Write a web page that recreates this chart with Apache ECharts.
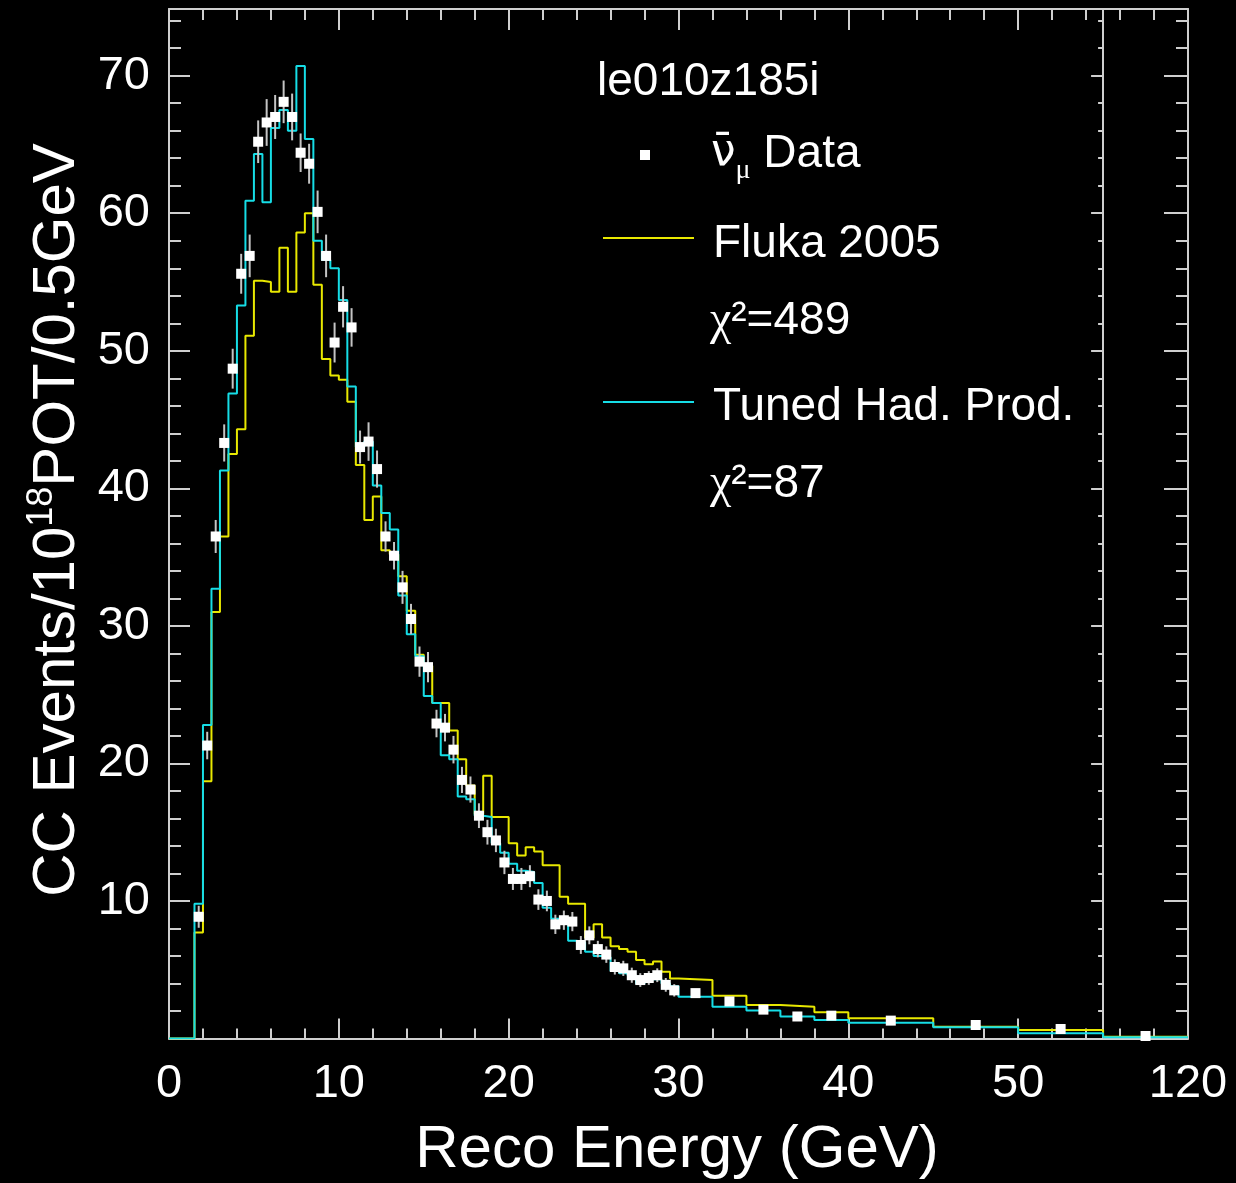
<!DOCTYPE html>
<html>
<head>
<meta charset="utf-8">
<script src="https://cdn.jsdelivr.net/npm/echarts@6/dist/echarts.min.js"></script>
<style>
html,body{margin:0;padding:0;background:#000;}
#chart{width:1236px;height:1183px;}
</style>
</head>
<body>
<div id="chart"></div>
<script>
// ---------- DATA ----------
// Bin edges in GeV (last bin 55-120 is drawn in a compressed panel)
const binEdges = [0,0.5,1,1.5,2,2.5,3,3.5,4,4.5,5,5.5,6,6.5,7,7.5,8,8.5,9,9.5,10,
  10.5,11,11.5,12,12.5,13,13.5,14,14.5,15,15.5,16,16.5,17,17.5,18,18.5,19,19.5,20,
  20.5,21,21.5,22,22.5,23,23.5,24,24.5,25,25.5,26,26.5,27,27.5,28,28.5,29,29.5,30,
  32,34,36,38,40,45,50,55,120];

// Tuned hadron production MC (cyan)
const tunedValues = [0,0,0,9.8,22.8,32.7,41.3,46.9,53.3,60.9,64.3,60.8,66.2,67.5,66.0,70.7,
  65.4,58.0,56.6,56.0,53.7,47.4,43.0,43.4,40.2,38.2,37.0,32.2,29.4,27.8,24.9,24.4,
  20.6,20.3,17.6,17.4,16.2,16.1,14.2,13.5,12.7,12.2,12.1,11.3,9.5,8.7,8.5,7.1,7.0,
  6.3,6.0,5.9,4.9,4.75,4.6,4.0,4.5,4.3,4.0,3.8,3.04,2.3,2.03,1.6,1.35,1.15,0.81,0.38,0.09];

// Fluka 2005 MC (yellow)
const flukaValues = [0,0,0,7.7,18.7,31.0,36.5,42.5,44.3,51.1,55.1,55.0,54.3,57.5,54.3,58.6,
  60.0,54.8,49.4,48.2,47.9,46.3,41.7,37.7,39.4,35.5,35.2,33.6,31.1,27.9,27.1,24.4,
  24.4,22.4,20.3,18.4,16.3,19.1,16.1,16.1,14.2,13.3,13.9,13.6,12.6,12.6,10.3,9.8,9.8,
  7.3,8.3,7.35,6.7,6.5,6.3,5.7,5.4,5.6,4.85,4.36,4.25,3.11,2.43,2.3,1.9,1.47,0.85,0.62,0.12];

// anti-numu data points (per bin) and their error half-lengths
const dataValues = [null,null,null,8.85,21.3,36.5,43.3,48.7,55.6,56.9,65.2,66.6,67.0,68.1,67.0,
  64.4,63.6,60.1,56.9,50.6,53.2,51.7,43.0,43.4,41.4,36.5,35.1,32.8,30.5,27.4,27.0,22.9,
  22.6,21.0,18.8,18.1,16.2,15.0,14.4,12.8,11.6,11.6,11.8,10.1,10.0,8.3,8.6,8.5,6.8,7.5,
  6.5,6.1,5.2,5.1,4.6,4.25,4.4,4.6,3.9,3.5,3.3,2.7,2.1,1.6,1.66,1.3,0.98,0.69,0.18];
const dataErrors = [null,null,null,0.8,1.0,1.2,1.35,1.45,1.45,1.55,1.55,1.7,1.6,1.55,1.7,1.4,
  1.45,1.55,1.55,1.45,1.5,1.4,1.2,1.4,1.35,1.1,1.0,1.2,1.1,1.1,1.1,1.0,1.0,1.0,0.95,0.95,
  0.9,0.9,0.85,0.85,0.8,0.8,0.8,0.75,0.75,0.7,0.7,0.7,0.65,0.65,0.6,0.6,0.55,0.55,0.55,
  0.5,0.5,0.5,0.5,0.45,0.3,0.28,0.25,0.22,0.22,0.12,0.1,0.08,0.03];

// Tick labels
const xTickLabels = {0:'0',10:'10',20:'20',30:'30',40:'40',50:'50',60:'120'};
const yTickLabels = {10:'10',20:'20',30:'30',40:'40',50:'50',60:'60',70:'70'};

// ---------- helpers ----------
// display coordinate: linear 0-55 GeV, the 55-120 GeV bin compressed into 55-60
const BREAK = 55, TOPREAL = 120, TOPDISP = 60;
function disp(e){ return e <= BREAK ? e : BREAK + (e - BREAK) * (TOPDISP - BREAK) / (TOPREAL - BREAK); }
function stepData(vals){
  const d = [];
  for (let i = 0; i < vals.length; i++) d.push([disp(binEdges[i]), vals[i]]);
  d.push([disp(binEdges[vals.length]), vals[vals.length - 1]]);
  return d;
}
function pointData(){
  const d = [];
  for (let i = 0; i < dataValues.length; i++) {
    if (dataValues[i] == null) continue;
    const c = 0.5 * (binEdges[i] + binEdges[i + 1]);
    d.push([disp(c), dataValues[i], dataErrors[i]]);
  }
  return d;
}
function lbl(map){
  return v => {
    const r = Math.round(v);
    return (Math.abs(v - r) < 1e-6 && map[r] !== undefined) ? map[r] : '';
  };
}

const FONT = '"Liberation Sans", Arial, Helvetica, sans-serif';
const AXC = '#cfcfcf';
const YMAX = 74.85;
const GRID = {left: 169, top: 9, right: 1236 - 1188, bottom: 1183 - 1038.5};
const gridWidth = 1236 - GRID.left - GRID.right;
const midOffset = -gridWidth * (TOPDISP - BREAK) / TOPDISP;

function xAxisDef(pos, interval, tickLen, showLine, showLabel){
  return {
    type: 'value', position: pos, min: 0, max: TOPDISP, interval: interval,
    axisLine: {show: showLine, onZero: false, lineStyle: {color: AXC, width: 2}},
    axisTick: {show: true, inside: true, length: tickLen, lineStyle: {color: AXC, width: 2}},
    minorTick: {show: false},
    axisLabel: {show: showLabel, color: '#fff', fontSize: 47, fontFamily: FONT, margin: 22, formatter: lbl(xTickLabels)},
    splitLine: {show: false}
  };
}
function yAxisDef(pos, interval, tickLen, showLine, showLabel, offset){
  return {
    type: 'value', position: pos, min: 0, max: YMAX, interval: interval, offset: offset || 0,
    axisLine: {show: showLine, onZero: false, lineStyle: {color: AXC, width: 2}},
    axisTick: {show: true, inside: true, length: tickLen, lineStyle: {color: AXC, width: 2}},
    minorTick: {show: false},
    axisLabel: {show: showLabel, color: '#fff', fontSize: 47, fontFamily: FONT, margin: 19, formatter: lbl(yTickLabels)},
    splitLine: {show: false}
  };
}

const chart = echarts.init(document.getElementById('chart'), null, {renderer: 'canvas'});
chart.setOption({
  backgroundColor: '#000',
  animation: false,
  grid: GRID,
  xAxis: [
    xAxisDef('bottom', 10, 20, true, true),
    xAxisDef('bottom', 2, 10, false, false),
    xAxisDef('top', 10, 21, true, false),
    xAxisDef('top', 2, 11, false, false)
  ],
  yAxis: [
    yAxisDef('left', 10, 21, true, true),
    yAxisDef('left', 2, 12, false, false),
    yAxisDef('right', 10, 24, true, false),
    yAxisDef('right', 2, 12, false, false),
    yAxisDef('right', 10, 12, true, false, midOffset),
    yAxisDef('right', 2, 5, false, false, midOffset)
  ],
  series: [
    {
      name: 'Fluka 2005', type: 'line', step: 'end', data: stepData(flukaValues),
      symbol: 'none', z: 3, lineStyle: {color: '#e8e800', width: 2}
    },
    {
      name: 'Tuned Had. Prod.', type: 'line', step: 'end', data: stepData(tunedValues),
      symbol: 'none', z: 4, lineStyle: {color: '#16dde6', width: 2}
    },
    {
      name: 'Data', type: 'custom', z: 5, data: pointData(),
      renderItem: function(params, api){
        const x = api.value(0), y = api.value(1), e = api.value(2);
        const p = api.coord([x, y]);
        const lo = api.coord([x, y - e]);
        const hi = api.coord([x, y + e]);
        return {type: 'group', children: [
          {type: 'line', shape: {x1: p[0], y1: lo[1], x2: p[0], y2: hi[1]}, style: {stroke: '#c4c4c4', lineWidth: 2}},
          {type: 'rect', shape: {x: p[0] - 5, y: p[1] - 5, width: 10, height: 10}, style: {fill: '#ffffff'}}
        ]};
      }
    }
  ],
  graphic: {elements: [
    {type: 'text', x: 597, y: 82, style: {text: 'le010z185i', fill: '#fff', fontSize: 46, fontFamily: FONT, align: 'left', verticalAlign: 'middle'}},
    {type: 'rect', shape: {x: 640, y: 150, width: 10, height: 10}, style: {fill: '#fff'}},
    {type: 'text', x: 711, y: 154, style: {
      text: '{nu|\u03BD\u0304}{mu|\u03BC}{t| Data}', fill: '#fff', fontSize: 46, fontFamily: FONT,
      align: 'left', verticalAlign: 'middle',
      rich: {
        nu: {fontSize: 44, fontFamily: '"DejaVu Sans", sans-serif', fill: '#fff', lineHeight: 62, verticalAlign: 'middle'},
        mu: {fontSize: 28, fontFamily: '"Liberation Serif", serif', fill: '#fff', lineHeight: 62, verticalAlign: 'bottom'},
        t: {fontSize: 46, fontFamily: FONT, fill: '#fff', lineHeight: 62, verticalAlign: 'middle'}
      }}},
    {type: 'line', shape: {x1: 603, y1: 238, x2: 694, y2: 238}, style: {stroke: '#e8e800', lineWidth: 2}},
    {type: 'text', x: 713, y: 244, style: {text: 'Fluka 2005', fill: '#fff', fontSize: 46, fontFamily: FONT, align: 'left', verticalAlign: 'middle'}},
    {type: 'text', x: 710, y: 321, style: {
      text: '{g|\u03C7}{t|\u00B2=489}', fill: '#fff', fontSize: 46, fontFamily: FONT, align: 'left', verticalAlign: 'middle',
      rich: {g: {fontSize: 48, fontFamily: '"Liberation Serif", serif', fill: '#fff'}, t: {fontSize: 46, fontFamily: FONT, fill: '#fff'}}}},
    {type: 'line', shape: {x1: 603, y1: 402, x2: 694, y2: 402}, style: {stroke: '#16dde6', lineWidth: 2}},
    {type: 'text', x: 713, y: 407, style: {text: 'Tuned Had. Prod.', fill: '#fff', fontSize: 46, fontFamily: FONT, align: 'left', verticalAlign: 'middle'}},
    {type: 'text', x: 710, y: 484, style: {
      text: '{g|\u03C7}{t|\u00B2=87}', fill: '#fff', fontSize: 46, fontFamily: FONT, align: 'left', verticalAlign: 'middle',
      rich: {g: {fontSize: 48, fontFamily: '"Liberation Serif", serif', fill: '#fff'}, t: {fontSize: 46, fontFamily: FONT, fill: '#fff'}}}},
    {type: 'text', x: 677, y: 1150, style: {text: 'Reco Energy (GeV)', fill: '#fff', fontSize: 60, fontFamily: FONT, align: 'center', verticalAlign: 'middle'}},
    {type: 'text', x: 57, y: 520, rotation: Math.PI / 2, style: {
      text: 'CC Events/10{sup|18}POT/0.5GeV', fill: '#fff', fontSize: 60, fontFamily: FONT, align: 'center', verticalAlign: 'middle',
      lineHeight: 66,
      rich: {sup: {fontSize: 36, fontFamily: FONT, fill: '#fff', lineHeight: 66, verticalAlign: 'top'}}}}
  ]}
});
</script>
</body>
</html>
